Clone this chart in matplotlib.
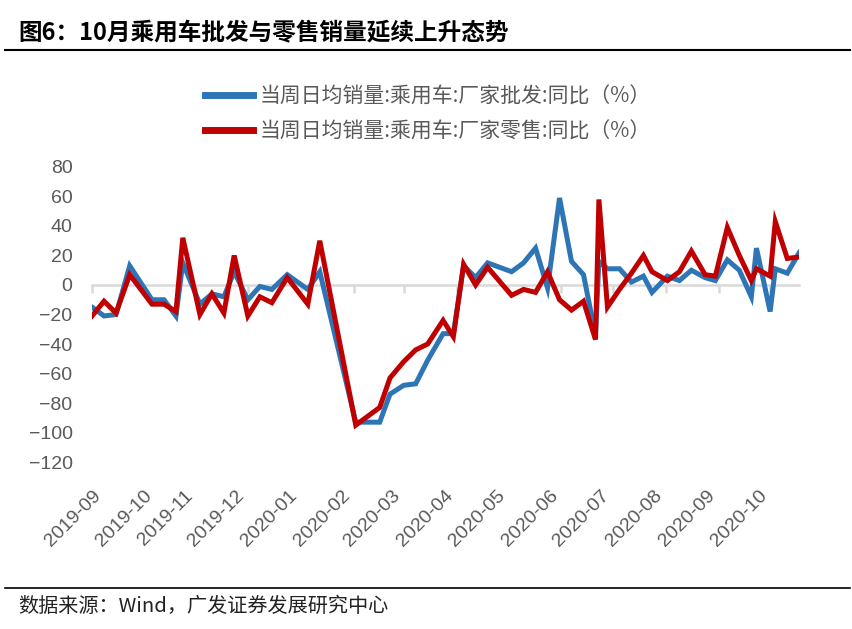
import numpy as np
import matplotlib
matplotlib.use("Agg")
import matplotlib.pyplot as plt
import matplotlib.dates as mdates
from matplotlib.lines import Line2D

plt.rcParams['font.family'] = ['Liberation Sans', 'Noto Sans CJK SC', 'DejaVu Sans']

# --- DATA ---
dates = ["2019-09-08", "2019-09-15", "2019-09-22", "2019-09-30",
         "2019-10-13", "2019-10-20", "2019-10-27", "2019-10-31",
         "2019-11-10", "2019-11-17", "2019-11-24", "2019-11-30",
         "2019-12-08", "2019-12-15", "2019-12-22", "2019-12-31",
         "2020-01-12", "2020-01-19",
         "2020-02-09", "2020-02-16", "2020-02-23", "2020-02-29",
         "2020-03-08", "2020-03-15", "2020-03-22", "2020-03-31",
         "2020-04-06", "2020-04-12", "2020-04-19", "2020-04-26",
         "2020-05-10", "2020-05-17", "2020-05-24", "2020-05-31",
         "2020-06-07", "2020-06-14", "2020-06-21", "2020-06-28", "2020-06-30",
         "2020-07-05", "2020-07-12", "2020-07-19", "2020-07-26", "2020-07-31",
         "2020-08-09", "2020-08-16", "2020-08-23", "2020-08-31",
         "2020-09-06", "2020-09-13", "2020-09-20", "2020-09-27", "2020-09-30",
         "2020-10-08", "2020-10-11", "2020-10-18", "2020-10-25"]

wholesale = [-15, -21, -20, 13,
             -10, -10, -21, 15,
             -13, -6, -8, 9,
             -10, -1, -3, 7,
             -3, 9,
             -93, -93, -93, -74,
             -68, -67, -51, -33,
             -33, 13, 5, 15,
             9, 15, 25, -2,
             59, 16, 7, -34, 16,
             11, 11, 2, 6, -5,
             6, 3, 10, 5,
             3, 17, 10, -8, 25,
             -18, 11, 8, 22]

retail = [-21, -11, -19, 7,
          -13, -13, -18, 32,
          -20, -6, -19, 20,
          -21, -8, -12, 5,
          -13, 30,
          -95, -89, -83, -63,
          -52, -44, -40, -24,
          -35, 14, 0, 12,
          -7, -3, -5, 9,
          -10, -17, -11, -37, 58,
          -15, -3, 8, 20, 9,
          3, 9, 23, 7,
          6, 39, 20, 3, 11,
          6, 43, 18, 19]

labels = ["当周日均销量:乘用车:厂家批发:同比（%）",
          "当周日均销量:乘用车:厂家零售:同比（%）"]

x = np.array(dates, dtype="datetime64[D]")
gray = "#595959"

fig = plt.figure(figsize=(8.53, 6.29), dpi=100)
ax = fig.add_axes([0.1079, 0.2655, 0.8291, 0.469])

ax.plot(x, wholesale, color="#2E75B6", lw=3.6, label=labels[0], zorder=3,
        solid_joinstyle="miter")
ax.plot(x, retail, color="#C00000", lw=3.6, label=labels[1], zorder=4,
        solid_joinstyle="miter")

ax.set_ylim(-120, 80)
ax.set_yticks(np.arange(-120, 81, 20))
ax.set_xlim(x[0], x[-1])

# zero line with month ticks
for s in ["top", "right", "left"]:
    ax.spines[s].set_visible(False)
ax.spines["bottom"].set_position(("data", 0))
ax.spines["bottom"].set_color("#D9D9D9")
ax.spines["bottom"].set_linewidth(1.8)
ax.xaxis.set_major_locator(mdates.MonthLocator(bymonthday=8))
ax.tick_params(axis="x", direction="out", length=6, width=1.8,
               color="#D9D9D9", labelbottom=False)
ax.tick_params(axis="y", length=0, labelsize=14, labelcolor=gray, pad=14)

# month labels at the bottom
sec = ax.secondary_xaxis("bottom")
sec.xaxis.set_major_locator(mdates.MonthLocator(bymonthday=8))
sec.xaxis.set_major_formatter(mdates.DateFormatter("%Y-%m"))
sec.spines["bottom"].set_visible(False)
sec.tick_params(length=0, labelsize=14, labelcolor=gray, pad=18)
for t in sec.get_xticklabels():
    t.set_rotation(45)
    t.set_ha("right")
    t.set_rotation_mode("anchor")

leg = ax.legend(loc="center", bbox_to_anchor=(0.475, 1.18), frameon=False,
                handlelength=2.3, handletextpad=0.3,
                labelspacing=0.65, labelcolor=gray,
                prop={"family": ["Noto Sans CJK SC"], "size": 15})
for h in leg.get_lines():
    h.set_linewidth(5)

# title, rules and source
fig.text(0.021, 1 - 33 / 629, "图6：10月乘用车批发与零售销量延续上升态势",
         fontsize=17, fontweight="bold", va="center",
         family=["Noto Sans CJK SC", "DejaVu Sans"])
fig.add_artist(Line2D([0.006, 0.997], [1 - 50 / 629] * 2, color="black", lw=1.5))
fig.add_artist(Line2D([0.006, 0.997], [1 - 588 / 629] * 2, color="black", lw=1.2))
fig.text(0.021, 1 - 606 / 629, "数据来源：Wind，广发证券发展研究中心",
         fontsize=14.5, va="center", color="#222222",
         family=["Noto Sans CJK SC", "DejaVu Sans"])

fig.savefig("out.png", dpi=100)
